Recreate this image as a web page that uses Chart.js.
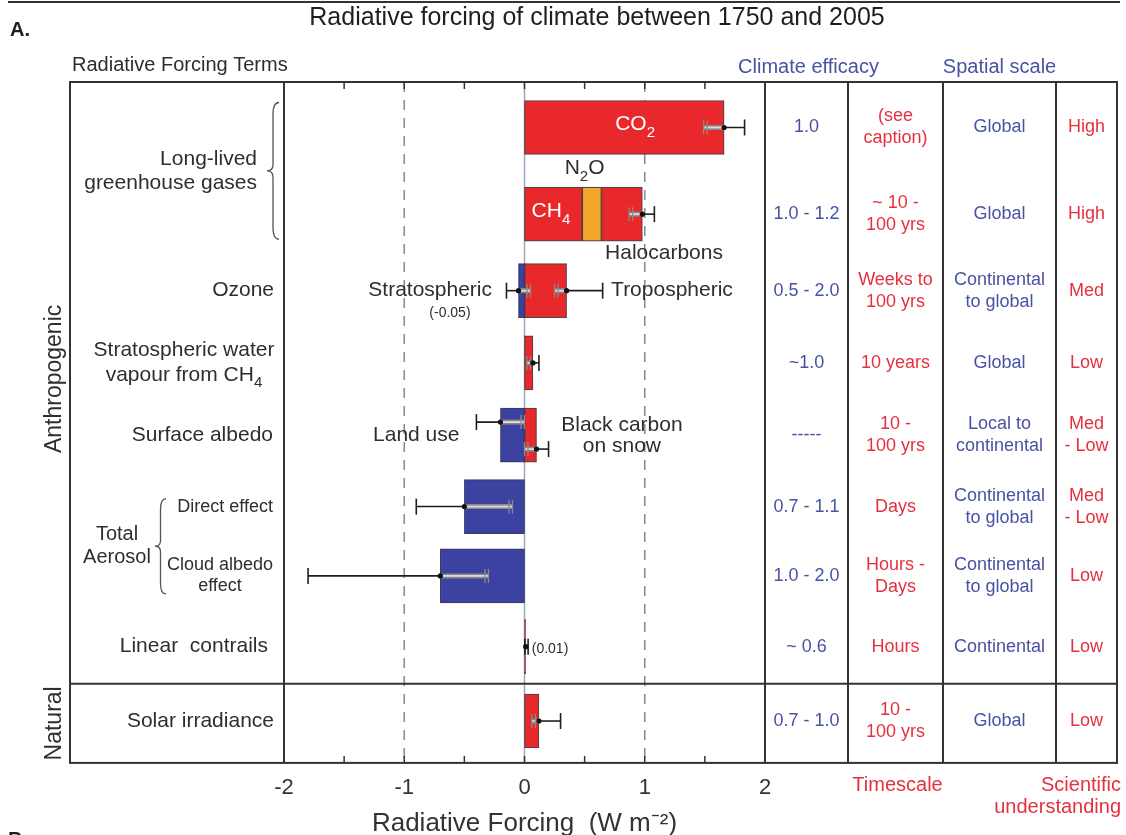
<!DOCTYPE html>
<html>
<head>
<meta charset="utf-8">
<script src="https://cdn.jsdelivr.net/npm/chart.js@4.4.1/dist/chart.umd.min.js"></script>
<style>
  html, body { margin: 0; padding: 0; background: #fff; }
  #wrap { width: 1126px; height: 835px; }
</style>
</head>
<body>
<div id="wrap"><canvas id="rfChart" width="1126" height="835"></canvas></div>
<script>
// radiative forcing terms (W m-2), 1750 -> 2005
const terms = ['CO2', 'CH4', 'N2O', 'Halocarbons', 'Stratospheric ozone', 'Tropospheric ozone',
  'Stratospheric water vapour', 'Land use', 'Black carbon on snow', 'Aerosol direct effect',
  'Cloud albedo effect', 'Linear contrails', 'Solar irradiance'];
const forcing = [1.66, 0.48, 0.16, 0.34, -0.05, 0.35, 0.07, -0.2, 0.1, -0.5, -0.7, 0.01, 0.12];
const termRow = [0, 1, 1, 1, 2, 2, 3, 4, 4, 5, 6, 7, 8];

// uncertainty ranges
const errTerms = ['CO2', 'CH4 + N2O + Halocarbons', 'Stratospheric ozone', 'Tropospheric ozone',
  'Stratospheric water vapour', 'Land use', 'Black carbon on snow', 'Aerosol direct effect',
  'Cloud albedo effect', 'Linear contrails', 'Solar irradiance'];
const errRow = [0, 1, 2, 2, 3, 4, 4, 5, 6, 7, 8];
const errBest = [1.66, 0.98, -0.05, 0.35, 0.07, -0.2, 0.1, -0.5, -0.7, 0.01, 0.12];
const errLow = [1.49, 0.87, -0.15, 0.25, 0.02, -0.4, 0.0, -0.9, -1.8, 0.003, 0.06];
const errHigh = [1.83, 1.08, 0.05, 0.65, 0.12, 0.0, 0.2, -0.1, -0.3, 0.03, 0.30];
const grayLow = [1.49, 0.87, -0.05, 0.25, 0.02, -0.2, 0.0, -0.5, -0.7, null, 0.06];
const grayHigh = [1.66, 0.98, 0.05, 0.35, 0.07, 0.0, 0.1, -0.1, -0.3, null, 0.12];

// table columns, one entry per row
const efficacy = ['1.0', '1.0 - 1.2', '0.5 - 2.0', '~1.0', '-----', '0.7 - 1.1', '1.0 - 2.0', '~ 0.6', '0.7 - 1.0'];
const timescale = ['(see\ncaption)', '~ 10 -\n100 yrs', 'Weeks to\n100 yrs', '10 years', '10 -\n100 yrs',
  'Days', 'Hours -\nDays', 'Hours', '10 -\n100 yrs'];
const spatial = ['Global', 'Global', 'Continental\nto global', 'Global', 'Local to\ncontinental',
  'Continental\nto global', 'Continental\nto global', 'Continental', 'Global'];
const understanding = ['High', 'High', 'Med', 'Low', 'Med\n- Low', 'Med\n- Low', 'Low', 'Low', 'Low'];
const xTicks = [-2, -1, 0, 1, 2];

// layout
const rowPos = [0, 1.2, 2.26, 3.26, 4.26, 5.25, 6.21, 7.19, 8.22];
const errShift = [0, 0, 0, 0, 0, -13, 14, 0, 0, 0, 0];
const colW = [83, 95, 113, 61];

const RED = '#e8282b', BLUE = '#3c42a2', ORANGE = '#f4a62a';
const TXT = '#2e2e2e', TBLUE = '#4852a3', TRED = '#e5313d';
const FONT = "'Liberation Sans', Arial, Helvetica, sans-serif";
Chart.defaults.font.family = FONT;

function font(size, weight) { return (weight || 'normal') + ' ' + size + 'px ' + FONT; }

function multiText(ctx, text, x, y, size, color, align, lh) {
  const lines = text.split('\n');
  ctx.font = font(size);
  ctx.fillStyle = color;
  ctx.textAlign = align || 'center';
  ctx.textBaseline = 'middle';
  const h = lh || size * 1.2;
  lines.forEach((ln, k) => ctx.fillText(ln, x, y + (k - (lines.length - 1) / 2) * h));
}

// text with subscripts: parts = [[text, isSub], ...]
function richText(ctx, parts, x, y, size, color, align) {
  ctx.textBaseline = 'middle';
  ctx.textAlign = 'left';
  ctx.fillStyle = color;
  let w = 0;
  parts.forEach(p => { ctx.font = font(p[1] ? size * 0.72 : size); w += ctx.measureText(p[0]).width; });
  let cx = align === 'center' ? x - w / 2 : align === 'right' ? x - w : x;
  parts.forEach(p => {
    ctx.font = font(p[1] ? size * 0.72 : size);
    ctx.fillText(p[0], cx, p[1] ? y + size * 0.4 : y);
    cx += ctx.measureText(p[0]).width;
  });
}

function line(ctx, x1, y1, x2, y2) {
  ctx.beginPath(); ctx.moveTo(x1, y1); ctx.lineTo(x2, y2); ctx.stroke();
}

// left curly brace, tip at x
function brace(ctx, x, yTop, yBot, w) {
  const ym = (yTop + yBot) / 2, xm = x + w / 2;
  ctx.beginPath();
  ctx.moveTo(x + w, yTop);
  ctx.quadraticCurveTo(xm, yTop, xm, yTop + w);
  ctx.lineTo(xm, ym - w / 2);
  ctx.quadraticCurveTo(xm, ym, x, ym);
  ctx.quadraticCurveTo(xm, ym, xm, ym + w / 2);
  ctx.lineTo(xm, yBot - w);
  ctx.quadraticCurveTo(xm, yBot, x + w, yBot);
  ctx.stroke();
}

const gridPlugin = {
  id: 'gridLines',
  beforeDatasetsDraw(chart) {
    const {ctx, chartArea: a, scales: {x}} = chart;
    ctx.save();
    ctx.strokeStyle = '#8e8e8e';
    ctx.lineWidth = 1.6;
    ctx.setLineDash([10, 8]);
    [-1, 1].forEach(v => line(ctx, x.getPixelForValue(v), a.top, x.getPixelForValue(v), a.bottom));
    ctx.setLineDash([]);
    ctx.strokeStyle = '#a2a6ba';
    ctx.lineWidth = 1.5;
    line(ctx, x.getPixelForValue(0), a.top, x.getPixelForValue(0), a.bottom);
    ctx.restore();
  }
};

const errorPlugin = {
  id: 'errorBars',
  afterDatasetsDraw(chart) {
    const {ctx, scales: {x, y}} = chart;
    ctx.save();
    errBest.forEach((b, i) => {
      const yc = y.getPixelForValue(rowPos[errRow[i]]) + errShift[i];
      const xl = x.getPixelForValue(errLow[i]), xh = x.getPixelForValue(errHigh[i]);
      const xb = x.getPixelForValue(b);
      let gEnd = null;
      if (grayLow[i] !== null) {
        const gl = x.getPixelForValue(grayLow[i]), gh = x.getPixelForValue(grayHigh[i]);
        gEnd = Math.abs(gl - xb) > Math.abs(gh - xb) ? gl : gh;
      }
      ctx.strokeStyle = '#1e1e1e';
      ctx.lineWidth = 1.6;
      line(ctx, xl, yc, xh, yc);
      [xl, xh].forEach(e => {
        if (gEnd === null || Math.abs(e - gEnd) > 1.5) line(ctx, e, yc - 8, e, yc + 8);
      });
      if (grayLow[i] !== null) {
        const gl = x.getPixelForValue(grayLow[i]), gh = x.getPixelForValue(grayHigh[i]);
        ctx.strokeStyle = '#8a8a8a';
        ctx.lineWidth = 5;
        line(ctx, gl, yc, gh, yc);
        ctx.strokeStyle = '#dedede';
        ctx.lineWidth = 1.8;
        line(ctx, gl, yc, gh, yc);
        const dir = gEnd < xb ? 1 : -1;
        ctx.strokeStyle = '#8a8a8a';
        ctx.lineWidth = 1.3;
        line(ctx, gEnd, yc - 7, gEnd, yc + 7);
        line(ctx, gEnd + dir * 3.5, yc - 7, gEnd + dir * 3.5, yc + 7);
      }
      ctx.fillStyle = '#111';
      ctx.beginPath();
      ctx.arc(xb, yc, 2.6, 0, Math.PI * 2);
      ctx.fill();
    });
    ctx.restore();
  }
};

const framePlugin = {
  id: 'frameAndText',
  afterDraw(chart) {
    const {ctx, chartArea: a, scales: {x, y}} = chart;
    const ry = i => y.getPixelForValue(rowPos[i]);
    const xp = v => x.getPixelForValue(v);
    const boxL = 70;
    const colX = [a.right];
    colW.forEach(w => colX.push(colX[colX.length - 1] + w));
    const boxR = colX[colX.length - 1];
    const sepY = y.getPixelForValue((rowPos[7] + rowPos[8]) / 2);
    ctx.save();

    // minor ticks on top and bottom of the forcing panel
    ctx.strokeStyle = '#333';
    ctx.lineWidth = 1.5;
    for (let v = -1.5; v <= 1.5; v += 0.5) {
      line(ctx, xp(v), a.top, xp(v), a.top + 7);
      line(ctx, xp(v), a.bottom, xp(v), a.bottom - 7);
    }

    // frame and column grid
    ctx.strokeStyle = '#333';
    ctx.lineWidth = 2;
    ctx.strokeRect(boxL, a.top, boxR - boxL, a.bottom - a.top);
    line(ctx, a.left, a.top, a.left, a.bottom);
    colX.forEach(cx => line(ctx, cx, a.top, cx, a.bottom));
    line(ctx, boxL, sepY, boxR, sepY);
    line(ctx, 8, 2, 1120, 2);

    // titles and headers
    ctx.fillStyle = '#1e1e1e';
    ctx.font = font(20, 'bold');
    ctx.textAlign = 'left';
    ctx.textBaseline = 'middle';
    ctx.fillText('A.', 10, 30);
    ctx.fillText('B.', 8, 840);
    multiText(ctx, 'Radiative forcing of climate between 1750 and 2005', 597, 18, 25, '#1e1e1e', 'center');
    multiText(ctx, 'Radiative Forcing Terms', 72, 65, 20, TXT, 'left');
    multiText(ctx, 'Climate efficacy', (colX[0] + colX[1]) / 2 + 2, 67, 20, TBLUE, 'center');
    multiText(ctx, 'Spatial scale', (colX[2] + colX[3]) / 2, 67, 20, TBLUE, 'center');
    multiText(ctx, 'Timescale', (colX[1] + colX[2]) / 2 + 2, 785, 20, TRED, 'center');
    multiText(ctx, 'Scientific\nunderstanding', 1121, 796, 20, TRED, 'right', 22);

    // rotated group labels
    [['Anthropogenic', (a.top + sepY) / 2 - 4], ['Natural', (sepY + a.bottom) / 2]].forEach(([t, cy]) => {
      ctx.save();
      ctx.translate(55, cy);
      ctx.rotate(-Math.PI / 2);
      multiText(ctx, t, 0, 0, 23, TXT, 'center');
      ctx.restore();
    });

    // row labels
    multiText(ctx, 'Long-lived\ngreenhouse gases', 257, (ry(0) + ry(1)) / 2, 21, TXT, 'right', 24);
    ctx.strokeStyle = '#555';
    ctx.lineWidth = 1.3;
    brace(ctx, 267, ry(0) - 25, ry(1) + 25, 12);
    multiText(ctx, 'Ozone', 274, ry(2), 21, TXT, 'right');
    multiText(ctx, 'Stratospheric water', 184, ry(3) - 13, 21, TXT, 'center');
    richText(ctx, [['vapour from CH', 0], ['4', 1]], 184, ry(3) + 12, 21, TXT, 'center');
    multiText(ctx, 'Surface albedo', 273, ry(4), 21, TXT, 'right');
    multiText(ctx, 'Direct effect', 273, ry(5), 18, TXT, 'right');
    multiText(ctx, 'Cloud albedo\neffect', 220, ry(6), 18, TXT, 'center', 21);
    multiText(ctx, 'Total\nAerosol', 117, (ry(5) + ry(6)) / 2 + 5, 20, TXT, 'center', 23);
    brace(ctx, 155, ry(5) - 8, ry(6) + 18, 11);
    multiText(ctx, 'Linear  contrails', 268, ry(7), 21, TXT, 'right');
    multiText(ctx, 'Solar irradiance', 274, ry(8), 21, TXT, 'right');

    // annotations inside the forcing panel
    richText(ctx, [['CO', 0], ['2', 1]], xp(0.92), ry(0) - 3, 21, '#fff', 'center');
    richText(ctx, [['N', 0], ['2', 1], ['O', 0]], xp(0.5), ry(1) - 46, 21, TXT, 'center');
    richText(ctx, [['CH', 0], ['4', 1]], xp(0.22), ry(1) - 3, 21, '#fff', 'center');
    multiText(ctx, 'Halocarbons', xp(1.16), ry(1) + 39, 21, TXT, 'center');
    multiText(ctx, 'Stratospheric', xp(-0.27), ry(2), 21, TXT, 'right');
    multiText(ctx, '(-0.05)', xp(-0.62), ry(2) + 22, 14, TXT, 'center');
    multiText(ctx, 'Tropospheric', xp(0.72), ry(2), 21, TXT, 'left');
    multiText(ctx, 'Land use', xp(-0.9), ry(4), 21, TXT, 'center');
    multiText(ctx, 'Black carbon\non snow', xp(0.81), ry(4) + 1, 21, TXT, 'center', 21);
    multiText(ctx, '(0.01)', xp(0.06), ry(7) + 2, 14, TXT, 'left');

    // table cells
    const cols = [[efficacy, TBLUE], [timescale, TRED], [spatial, TBLUE], [understanding, TRED]];
    cols.forEach(([vals, color], c) => {
      const cx = (colX[c] + colX[c + 1]) / 2;
      vals.forEach((t, r) => multiText(ctx, t, cx, ry(r), 18, color, 'center', 22));
    });
    ctx.restore();
  }
};

const datasets = terms.map((t, i) => ({
  label: t,
  data: [{x: forcing[i], y: rowPos[termRow[i]]}],
  backgroundColor: t === 'N2O' ? ORANGE : (forcing[i] >= 0 ? RED : BLUE),
  borderColor: forcing[i] >= 0 ? 'rgba(70,45,45,0.9)' : 'rgba(35,38,90,0.9)',
  borderWidth: 1.2,
  borderSkipped: false,
  barThickness: 54,
  grouped: false
}));

new Chart(document.getElementById('rfChart'), {
  type: 'bar',
  data: {datasets},
  options: {
    indexAxis: 'y',
    responsive: false,
    devicePixelRatio: 1,
    animation: false,
    layout: {padding: {left: 284, right: 361, top: 82, bottom: 0}},
    plugins: {legend: {display: false}, tooltip: {enabled: false}},
    scales: {
      x: {
        type: 'linear',
        min: -2,
        max: 2,
        stacked: true,
        afterBuildTicks: s => { s.ticks = xTicks.map(v => ({value: v})); },
        ticks: {color: '#333', font: {size: 22, lineHeight: 1}, padding: 14},
        grid: {display: false, drawTicks: false},
        border: {display: false},
        title: {
          display: true,
          text: 'Radiative Forcing  (W m⁻²)',
          color: '#333',
          font: {size: 26, lineHeight: 0.85},
          padding: {top: 0, bottom: 0}
        }
      },
      y: {
        type: 'linear',
        reverse: true,
        min: -0.63,
        max: 8.8,
        offset: false,
        stacked: true,
        display: false
      }
    }
  },
  plugins: [gridPlugin, errorPlugin, framePlugin]
});
</script>
</body>
</html>
